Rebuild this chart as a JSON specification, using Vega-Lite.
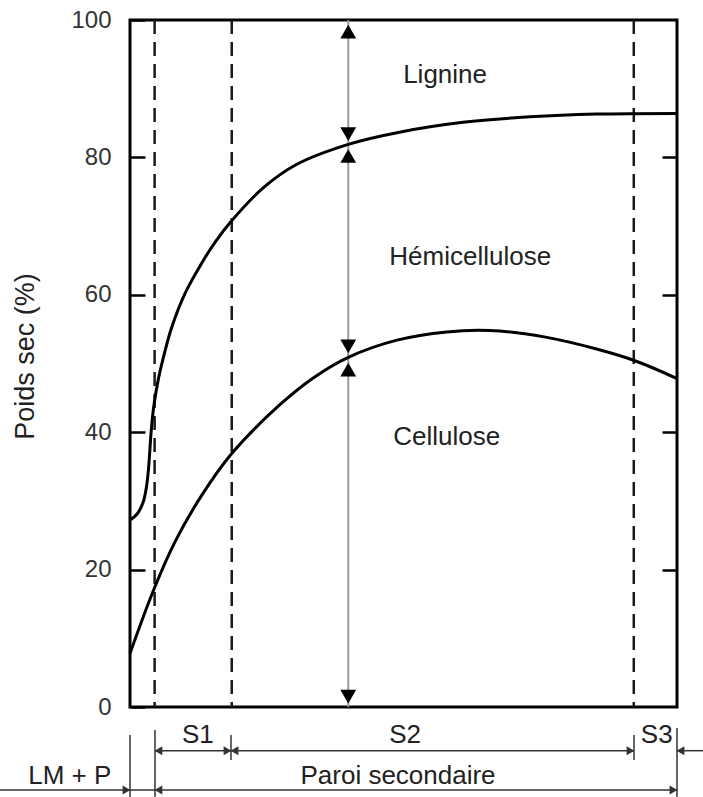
{
  "$schema": "https://vega.github.io/schema/vega-lite/v6.json",
  "width": 547,
  "height": 687,
  "autosize": {"type": "none"},
  "padding": {"left": 130, "top": 20, "right": 26, "bottom": 90},
  "background": "white",
  "config": {
    "view": {"stroke": "black", "strokeWidth": 3},
    "font": "Liberation Sans",
    "text": {"font": "Liberation Sans"}
  },
  "datasets": {
    "curves": [
      {"component": "upper", "pos": 0, "pct": 27.2},
      {"component": "upper", "pos": 1.3, "pct": 28.1},
      {"component": "upper", "pos": 2.4, "pct": 29.8},
      {"component": "upper", "pos": 3.0, "pct": 32.0},
      {"component": "upper", "pos": 3.4, "pct": 34.8},
      {"component": "upper", "pos": 3.85, "pct": 39.9},
      {"component": "upper", "pos": 4.3, "pct": 43.5},
      {"component": "upper", "pos": 5.2, "pct": 47.8},
      {"component": "upper", "pos": 6.4, "pct": 51.8},
      {"component": "upper", "pos": 7.6, "pct": 55.2},
      {"component": "upper", "pos": 10.0, "pct": 60.1},
      {"component": "upper", "pos": 13.1, "pct": 64.6},
      {"component": "upper", "pos": 15.6, "pct": 67.7},
      {"component": "upper", "pos": 18.5, "pct": 70.7},
      {"component": "upper", "pos": 24.4, "pct": 75.6},
      {"component": "upper", "pos": 30.5, "pct": 79.0},
      {"component": "upper", "pos": 39.9, "pct": 81.9},
      {"component": "upper", "pos": 48.8, "pct": 83.6},
      {"component": "upper", "pos": 60.9, "pct": 85.1},
      {"component": "upper", "pos": 73.1, "pct": 85.9},
      {"component": "upper", "pos": 85.3, "pct": 86.3},
      {"component": "upper", "pos": 100, "pct": 86.4},
      {"component": "lower", "pos": 0, "pct": 7.8},
      {"component": "lower", "pos": 4.3, "pct": 17.0},
      {"component": "lower", "pos": 8.2, "pct": 24.0},
      {"component": "lower", "pos": 13.1, "pct": 30.8},
      {"component": "lower", "pos": 18.6, "pct": 36.9},
      {"component": "lower", "pos": 27.4, "pct": 44.0},
      {"component": "lower", "pos": 33.5, "pct": 47.9},
      {"component": "lower", "pos": 39.9, "pct": 50.9},
      {"component": "lower", "pos": 48.8, "pct": 53.4},
      {"component": "lower", "pos": 57.9, "pct": 54.6},
      {"component": "lower", "pos": 65.8, "pct": 54.8},
      {"component": "lower", "pos": 76.2, "pct": 53.8},
      {"component": "lower", "pos": 85.3, "pct": 52.1},
      {"component": "lower", "pos": 92.3, "pct": 50.4},
      {"component": "lower", "pos": 100, "pct": 47.8}
    ],
    "dividers": [{"pos": 4.5}, {"pos": 18.6}, {"pos": 92.1}],
    "measure": [{"pos": 39.9}],
    "heads": [
      {"pos": 39.9, "pct": 98.3, "dir": "up"},
      {"pos": 39.9, "pct": 83.4, "dir": "down"},
      {"pos": 39.9, "pct": 80.2, "dir": "up"},
      {"pos": 39.9, "pct": 52.5, "dir": "down"},
      {"pos": 39.9, "pct": 49.1, "dir": "up"},
      {"pos": 39.9, "pct": 1.5, "dir": "down"}
    ],
    "labels": [
      {"label": "Lignine", "pos": 57.6, "pct": 92.0},
      {"label": "Hémicellulose", "pos": 62.2, "pct": 65.5},
      {"label": "Cellulose", "pos": 57.9, "pct": 39.3}
    ],
    "bottomLabels": [
      {"label": "S1", "pos": 12.4, "pct": -4.1},
      {"label": "S2", "pos": 50.3, "pct": -4.1},
      {"label": "S3", "pos": 96.3, "pct": -4.1},
      {"label": "LM + P", "pos": -11.0, "pct": -10.0},
      {"label": "Paroi secondaire", "pos": 49.0, "pct": -10.0}
    ],
    "spans": [
      {"from": 4.57, "to": 92.14, "pct": -6.36},
      {"from": 100, "to": 104.8, "pct": -6.36},
      {"from": -23.8, "to": 100, "pct": -12.08}
    ],
    "bounds": [
      {"pos": 0, "top": -4.07, "bottom": -13.2},
      {"pos": 4.57, "top": -3.35, "bottom": -13.2},
      {"pos": 18.46, "top": -4.07, "bottom": -7.71},
      {"pos": 92.14, "top": -4.07, "bottom": -7.71},
      {"pos": 100, "top": -3.06, "bottom": -13.2}
    ],
    "spanHeads": [
      {"pos": 5.2, "pct": -6.36, "dir": "left"},
      {"pos": 17.82, "pct": -6.36, "dir": "right"},
      {"pos": 19.1, "pct": -6.36, "dir": "left"},
      {"pos": 91.5, "pct": -6.36, "dir": "right"},
      {"pos": 100.64, "pct": -6.36, "dir": "left"},
      {"pos": -0.64, "pct": -12.08, "dir": "right"},
      {"pos": 5.2, "pct": -12.08, "dir": "left"},
      {"pos": 99.36, "pct": -12.08, "dir": "right"}
    ]
  },
  "layer": [
    {
      "data": {"name": "dividers"},
      "mark": {"type": "rule", "color": "#1a1a1a", "strokeWidth": 2.5, "strokeDash": [14, 8]},
      "encoding": {
        "x": {"field": "pos", "type": "quantitative", "scale": {"domain": [0, 100]}, "axis": null}
      }
    },
    {
      "data": {"name": "measure"},
      "mark": {"type": "rule", "color": "#9a9a9a", "strokeWidth": 2},
      "encoding": {
        "x": {"field": "pos", "type": "quantitative", "scale": {"domain": [0, 100]}, "axis": null}
      }
    },
    {
      "data": {"name": "curves"},
      "mark": {"type": "line", "color": "black", "strokeWidth": 3, "interpolate": "catmull-rom"},
      "encoding": {
        "x": {"field": "pos", "type": "quantitative", "scale": {"domain": [0, 100]}, "axis": null},
        "y": {
          "field": "pct", "type": "quantitative", "scale": {"domain": [0, 100]},
          "axis": {
            "orient": "left", "values": [0, 20, 40, 60, 80, 100], "grid": false, "domain": false,
            "ticks": true, "tickSize": -15, "tickWidth": 2.5, "tickColor": "black",
            "labelPadding": 34, "labelFontSize": 24, "labelColor": "#333", "labelFont": "Liberation Sans",
            "title": "Poids sec (%)", "titleFontSize": 27, "titleFontWeight": "normal", "titleColor": "#222",
            "titleFont": "Liberation Sans", "titleX": -105, "titleY": 336, "titleBaseline": "middle", "titleAlign": "center", "titleAngle": -90
          }
        },
        "detail": {"field": "component"}
      }
    },
    {
      "data": {"name": "heads"},
      "transform": [{"filter": "datum.dir === 'up'"}],
      "mark": {"type": "point", "shape": "triangle-up", "filled": true, "color": "black", "opacity": 1, "size": 250},
      "encoding": {
        "x": {"field": "pos", "type": "quantitative", "scale": {"domain": [0, 100]}, "axis": null},
        "y": {
          "field": "pct", "type": "quantitative", "scale": {"domain": [0, 100]},
          "axis": {
            "orient": "right", "values": [20, 40, 60, 80], "grid": false, "domain": false, "labels": false,
            "ticks": true, "tickSize": -15, "tickWidth": 2.5, "tickColor": "black", "title": null
          }
        }
      }
    },
    {
      "data": {"name": "heads"},
      "transform": [{"filter": "datum.dir === 'down'"}],
      "mark": {"type": "point", "shape": "triangle-down", "filled": true, "color": "black", "opacity": 1, "size": 250},
      "encoding": {
        "x": {"field": "pos", "type": "quantitative", "scale": {"domain": [0, 100]}, "axis": null},
        "y": {"field": "pct", "type": "quantitative", "scale": {"domain": [0, 100]}, "axis": null}
      }
    },
    {
      "data": {"name": "labels"},
      "mark": {"type": "text", "fontSize": 26, "color": "#222", "align": "center", "baseline": "middle"},
      "encoding": {
        "x": {"field": "pos", "type": "quantitative", "scale": {"domain": [0, 100]}, "axis": null},
        "y": {"field": "pct", "type": "quantitative", "scale": {"domain": [0, 100]}, "axis": null},
        "text": {"field": "label"}
      }
    },
    {
      "data": {"name": "bottomLabels"},
      "mark": {"type": "text", "fontSize": 26, "color": "#222", "align": "center", "baseline": "middle"},
      "encoding": {
        "x": {"field": "pos", "type": "quantitative", "scale": {"domain": [0, 100]}, "axis": null},
        "y": {"field": "pct", "type": "quantitative", "scale": {"domain": [0, 100]}, "axis": null},
        "text": {"field": "label"}
      }
    },
    {
      "data": {"name": "spans"},
      "mark": {"type": "rule", "color": "#333", "strokeWidth": 1.5},
      "encoding": {
        "x": {"field": "from", "type": "quantitative", "scale": {"domain": [0, 100]}, "axis": null},
        "x2": {"field": "to"},
        "y": {"field": "pct", "type": "quantitative", "scale": {"domain": [0, 100]}, "axis": null}
      }
    },
    {
      "data": {"name": "bounds"},
      "mark": {"type": "rule", "color": "#333", "strokeWidth": 1.5},
      "encoding": {
        "x": {"field": "pos", "type": "quantitative", "scale": {"domain": [0, 100]}, "axis": null},
        "y": {"field": "top", "type": "quantitative", "scale": {"domain": [0, 100]}, "axis": null},
        "y2": {"field": "bottom"}
      }
    },
    {
      "data": {"name": "spanHeads"},
      "transform": [{"filter": "datum.dir === 'left'"}],
      "mark": {"type": "point", "shape": "triangle-left", "filled": true, "color": "#333", "opacity": 1, "size": 80},
      "encoding": {
        "x": {"field": "pos", "type": "quantitative", "scale": {"domain": [0, 100]}, "axis": null},
        "y": {"field": "pct", "type": "quantitative", "scale": {"domain": [0, 100]}, "axis": null}
      }
    },
    {
      "data": {"name": "spanHeads"},
      "transform": [{"filter": "datum.dir === 'right'"}],
      "mark": {"type": "point", "shape": "triangle-right", "filled": true, "color": "#333", "opacity": 1, "size": 80},
      "encoding": {
        "x": {"field": "pos", "type": "quantitative", "scale": {"domain": [0, 100]}, "axis": null},
        "y": {"field": "pct", "type": "quantitative", "scale": {"domain": [0, 100]}, "axis": null}
      }
    }
  ],
  "resolve": {"axis": {"y": "independent"}}
}
